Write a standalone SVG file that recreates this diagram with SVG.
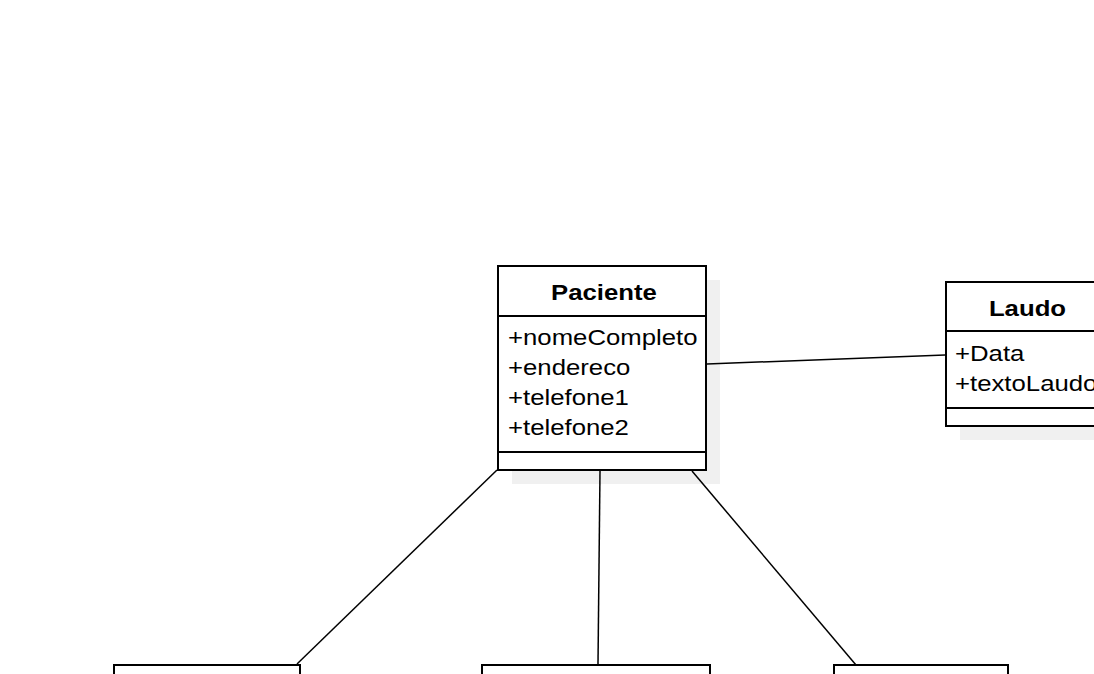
<svg xmlns="http://www.w3.org/2000/svg" width="1094" height="674" viewBox="0 0 1094 674">
<style>
.shadow{fill:#f0f0f0;stroke:none}
.box{fill:#ffffff;stroke:#000000;stroke-width:2}
.sep{stroke:#000000;stroke-width:2}
.title{font-family:"Liberation Sans",Arial,sans-serif;font-size:22px;font-weight:bold;fill:#000;text-anchor:middle}
.attr{font-family:"Liberation Sans",Arial,sans-serif;font-size:22px;fill:#000}
.conn{stroke:#000000;stroke-width:1.5;fill:none}
</style>
<rect x="0" y="0" width="1094" height="674" fill="#ffffff"/>
<g id="shadows">
<rect class="shadow" x="512" y="280" width="208" height="204"/>
<rect class="shadow" x="960" y="296" width="160" height="144"/>
</g>
<g id="connectors">
<line class="conn" x1="707" y1="364" x2="945" y2="355"/>
<line class="conn" x1="497" y1="470" x2="297" y2="664"/>
<line class="conn" x1="600" y1="471" x2="598" y2="664"/>
<line class="conn" x1="692" y1="471" x2="856" y2="665"/>
</g>
<g id="paciente">
<rect class="box" x="498" y="266" width="208" height="204"/>
<line class="sep" x1="498" y1="316" x2="706" y2="316"/>
<line class="sep" x1="498" y1="452" x2="706" y2="452"/>
<text class="title" transform="translate(604,299.5) scale(1.17,1)">Paciente</text>
<text class="attr" transform="translate(508,344.5) scale(1.17,1)">+nomeCompleto</text>
<text class="attr" transform="translate(508,374.5) scale(1.17,1)">+endereco</text>
<text class="attr" transform="translate(508,404.5) scale(1.17,1)">+telefone1</text>
<text class="attr" transform="translate(508,434.5) scale(1.17,1)">+telefone2</text>
</g>
<g id="laudo">
<rect class="box" x="946" y="282" width="160" height="144"/>
<line class="sep" x1="946" y1="331" x2="1106" y2="331"/>
<line class="sep" x1="946" y1="408" x2="1106" y2="408"/>
<text class="title" transform="translate(1027.5,315.5) scale(1.17,1)">Laudo</text>
<text class="attr" transform="translate(955,361) scale(1.17,1)">+Data</text>
<text class="attr" transform="translate(955,391) scale(1.17,1)">+textoLaudo</text>
</g>
<g id="node-left">
<rect class="box" x="114" y="665" width="186" height="40"/>
</g>
<g id="node-middle">
<rect class="box" x="482" y="665" width="228" height="40"/>
</g>
<g id="node-right">
<rect class="box" x="834" y="665" width="174" height="40"/>
</g>
</svg>
